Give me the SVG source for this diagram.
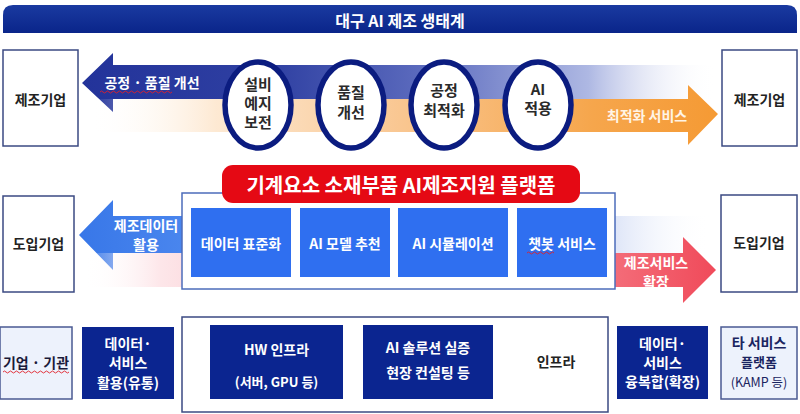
<svg xmlns="http://www.w3.org/2000/svg" width="800" height="414" viewBox="0 0 800 414">
<defs>
<linearGradient id="gBlueTop" gradientUnits="userSpaceOnUse" x1="82" y1="0" x2="715" y2="0">
<stop offset="0" stop-color="#23339a"/>
<stop offset="0.3" stop-color="#2f40a2"/>
<stop offset="0.55" stop-color="#5e6dbf"/>
<stop offset="0.8" stop-color="#aeb8e3"/>
<stop offset="1" stop-color="#ffffff" stop-opacity="0"/>
</linearGradient>
<linearGradient id="gOrangeTop" gradientUnits="userSpaceOnUse" x1="90" y1="0" x2="718" y2="0">
<stop offset="0" stop-color="#ffffff" stop-opacity="0"/>
<stop offset="0.2" stop-color="#fde9d3"/>
<stop offset="0.5" stop-color="#f9c690"/>
<stop offset="0.8" stop-color="#f6a64c"/>
<stop offset="1" stop-color="#f59a34"/>
</linearGradient>
<linearGradient id="gBlueMid" gradientUnits="userSpaceOnUse" x1="79" y1="0" x2="710" y2="0">
<stop offset="0" stop-color="#3877e8"/>
<stop offset="0.17" stop-color="#4a86ee"/>
<stop offset="0.85" stop-color="#dfe6f8"/>
<stop offset="1" stop-color="#ffffff" stop-opacity="0"/>
</linearGradient>
<linearGradient id="gRedMid" gradientUnits="userSpaceOnUse" x1="85" y1="0" x2="716" y2="0">
<stop offset="0" stop-color="#ffffff" stop-opacity="0"/>
<stop offset="0.12" stop-color="#fde6e9"/>
<stop offset="0.82" stop-color="#f4707c"/>
<stop offset="1" stop-color="#f04a5a"/>
</linearGradient>
<linearGradient id="gTitle" x1="0" y1="0" x2="0" y2="1">
<stop offset="0" stop-color="#1a3aa0"/>
<stop offset="1" stop-color="#0a258a"/>
</linearGradient>
</defs>
<style>
text{font-family:"Noto Sans CJK KR","Noto Sans",sans-serif;font-weight:700;text-anchor:middle;dominant-baseline:central}
.ent{fill:#ffffff;stroke:#3b4a82;stroke-width:1.5}
.entL{fill:#edf2fc;stroke:#4a5a92;stroke-width:1.5}
.dk{fill:#222222;font-size:14px}
.wt{fill:#ffffff;font-size:14px}
.navy{fill:#0b2590}
.mb{fill:#2f6ff0}
.circ{fill:#ffffff;stroke:#0b1c80;stroke-width:5.5}
.ct{fill:#2a2a2a;font-size:15px}
.sq{fill:none;stroke:#e0202a;stroke-width:0.9}
</style>

<!-- title -->
<g id="title">
<path d="M3,33 V15 Q3,5 13,5 H787 Q797,5 797,15 V33 Z" fill="url(#gTitle)"/>
<text x="400" y="19.5" fill="#ffffff" style="font-size:16px">대구 AI 제조 생태계</text>
</g>

<!-- connectors -->
<g id="connectors">
<path d="M715,65 H113 V53 L82,83 L113,112 V99 H715 Z" fill="url(#gBlueTop)"/>
<path d="M90,99 H688 V85 L718,114 L688,145 V132 H90 Z" fill="url(#gOrangeTop)"/>
<path d="M710,216 H113 V200 L79,235 L113,270 V253 H710 Z" fill="url(#gBlueMid)"/>
<path d="M85,253 H683 V237 L716,270 L683,303 V287 H85 Z" fill="url(#gRedMid)"/>
<text x="152" y="82" class="wt" style="font-size:14px">공정 · 품질 개선</text>
<path class="sq" d="M100,92 q1.5,-2 3,0 t3,0 t3,0 t3,0 t3,0 t3,0 t3,0 t3,0 t3,0 t3,0 t3,0 t3,0 t3,0 t3,0 t3,0 t3,0 t3,0 t3,0 t3,0 t3,0 t3,0 t3,0 t3,0 t3,0"/>
<text x="647" y="115" fill="#fff4e6" style="font-size:14px">최적화 서비스</text>
<text x="146" y="225" class="wt">제조데이터</text>
<text x="146" y="244" class="wt">활용</text>
<text x="656" y="262" class="wt">제조서비스</text>
<text x="656" y="281" class="wt">확장</text>
</g>

<!-- top row -->
<g id="maker-left"><rect x="3" y="50" width="75" height="96" class="ent"/><text x="40.5" y="99" class="dk">제조기업</text></g>
<g id="maker-right"><rect x="722" y="50" width="75" height="96" class="ent"/><text x="759.5" y="99" class="dk">제조기업</text></g>

<g id="c1"><ellipse cx="258" cy="105" rx="33" ry="43" class="circ"/>
<text x="258" y="83" class="ct">설비</text><text x="258" y="102" class="ct">예지</text><text x="258" y="121" class="ct">보전</text></g>
<g id="c2"><ellipse cx="351" cy="105" rx="33" ry="43" class="circ"/>
<text x="351" y="91" class="ct">품질</text><text x="351" y="111" class="ct">개선</text></g>
<g id="c3"><ellipse cx="444" cy="105" rx="33" ry="43" class="circ"/>
<text x="444" y="89" class="ct">공정</text><text x="444" y="109" class="ct">최적화</text></g>
<g id="c4"><ellipse cx="538" cy="105" rx="33" ry="43" class="circ"/>
<text x="538" y="88" class="ct">AI</text><text x="538" y="107" class="ct">적용</text></g>

<!-- middle row -->
<g id="intro-left"><rect x="3" y="196" width="71" height="96" class="ent"/><text x="38.5" y="243" class="dk">도입기업</text></g>
<g id="intro-right"><rect x="721" y="195" width="76" height="97" class="ent"/><text x="759" y="242" class="dk">도입기업</text></g>

<g id="platform">
<rect x="182" y="193" width="433" height="96" fill="#ffffff" stroke="#4c6cba" stroke-width="1.5"/>
<rect x="222" y="165" width="358" height="38" rx="11" fill="#e50914"/>
<text x="401" y="184" fill="#ffffff" style="font-size:20px">기계요소 소재부품 AI제조지원 플랫폼</text>
</g>
<g id="p1"><rect x="191" y="208" width="100" height="69" class="mb"/><text x="241" y="243" class="wt">데이터 표준화</text></g>
<g id="p2"><rect x="300" y="208" width="90" height="69" class="mb"/><text x="345" y="243" class="wt">AI 모델 추천</text></g>
<g id="p3"><rect x="398" y="208" width="110" height="69" class="mb"/><text x="453" y="243" class="wt">AI 시뮬레이션</text></g>
<g id="p4"><rect x="517" y="208" width="90" height="69" class="mb"/><text x="562" y="243" class="wt">챗봇 서비스</text>
<path class="sq" d="M527,253 q1.5,-2 3,0 t3,0 t3,0 t3,0 t3,0 t3,0 t3,0 t3,0 t3,0"/></g>

<!-- bottom row -->
<g id="org"><rect x="0" y="327" width="72" height="72" class="entL"/><text x="36" y="362" fill="#1a1a3a" style="font-size:14px">기업 · 기관</text>
<path class="sq" d="M3,372 q1.5,-2 3,0 t3,0 t3,0 t3,0 t3,0 t3,0 t3,0 t3,0 t3,0 t3,0 t3,0 t3,0 t3,0 t3,0 t3,0 t3,0 t3,0 t3,0 t3,0 t3,0 t3,0 t3,0"/></g>
<g id="data-use"><rect x="82" y="327" width="92" height="72" class="navy"/>
<text x="128" y="343" class="wt">데이터·</text><text x="128" y="362" class="wt">서비스</text><text x="128" y="382" class="wt">활용(유통)</text></g>

<g id="infra">
<rect x="182" y="317" width="426" height="95" fill="#ffffff" stroke="#3b4a82" stroke-width="1.5"/>
<text x="556" y="361" fill="#222222" style="font-size:14px">인프라</text>
</g>
<g id="hw"><rect x="210" y="325" width="133" height="74" class="navy"/>
<text x="276.5" y="349" class="wt">HW 인프라</text><text x="276.5" y="381" class="wt" style="font-size:13px">(서버, GPU 등)</text></g>
<g id="ai-sol"><rect x="363" y="325" width="130" height="74" class="navy"/>
<text x="428" y="347" class="wt">AI 솔루션 실증</text><text x="428" y="372" class="wt">현장 컨설팅 등</text></g>

<g id="data-conv"><rect x="617" y="326" width="91" height="73" class="navy"/>
<text x="662.5" y="343" class="wt">데이터·</text><text x="662.5" y="362" class="wt">서비스</text><text x="662.5" y="381" class="wt">융복합(확장)</text></g>
<g id="other"><rect x="721" y="327" width="76" height="72" class="entL"/>
<text x="759" y="342" fill="#1a2460" style="font-size:14px">타 서비스</text><text x="759" y="361" fill="#1a2460" style="font-size:13px">플랫폼</text><text x="759" y="381" fill="#1a2460" style="font-size:12.5px;font-weight:400">(KAMP 등)</text></g>
</svg>
